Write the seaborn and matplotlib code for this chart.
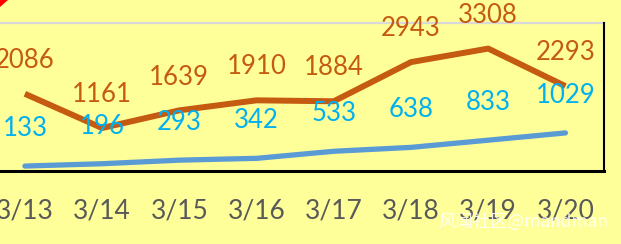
import matplotlib
matplotlib.use("Agg")
import matplotlib.pyplot as plt
import seaborn as sns
import pandas as pd
from matplotlib.patches import Polygon

dates = ["3/13", "3/14", "3/15", "3/16", "3/17", "3/18", "3/19", "3/20"]
series_a = [2086, 1161, 1639, 1910, 1884, 2943, 3308, 2293]
series_b = [133, 196, 293, 342, 533, 638, 833, 1029]

df = pd.DataFrame({"x": range(len(dates)), "a": series_a, "b": series_b})

sns.set_style("white")
plt.rcParams["font.family"] = ["Lato", "DejaVu Sans"]

BG = "#FFFF99"
ORANGE = "#C55A11"
BLUE = "#5B9BD5"
BLUE_LBL = "#00B0F0"

fig = plt.figure(figsize=(6.21, 2.44), dpi=100, facecolor=BG)
ax = fig.add_axes([-0.0221, 0.2992, 0.9948, 0.6066])
ax.set_facecolor(BG)

sns.lineplot(data=df, x="x", y="b", ax=ax, color=BLUE, linewidth=3.8,
             solid_capstyle="round", solid_joinstyle="round")
sns.lineplot(data=df, x="x", y="a", ax=ax, color=ORANGE, linewidth=4.3,
             solid_capstyle="butt", solid_joinstyle="round")

for i, v in enumerate(series_a):
    ax.annotate(str(v), (i, v), xytext=(0, 24), textcoords="offset points",
                ha="center", va="center", color=ORANGE, fontsize=18.5)
for i, v in enumerate(series_b):
    ax.annotate(str(v), (i, v), xytext=(0, 27), textcoords="offset points",
                ha="center", va="center", color=BLUE_LBL, fontsize=18.5)

ax.set_xlim(-0.5, len(dates) - 0.5)
ax.set_ylim(0, 4000)
ax.axhline(4000, color="#D9D9D9", linewidth=1.6, clip_on=False)

ax.set_xticks(range(len(dates)))
ax.set_xticklabels(dates, fontsize=19, color="#595959")
ax.set_xticks([i + 0.5 for i in range(-1, len(dates))], minor=True)
ax.tick_params(axis="x", which="major", length=0, pad=20)
ax.tick_params(axis="x", which="minor", length=7, width=1.8, color="black", direction="out")
ax.set_yticks([])
ax.set_xlabel("")
ax.set_ylabel("")

for s in ["top", "left"]:
    ax.spines[s].set_visible(False)
ax.spines["bottom"].set_color("black")
ax.spines["bottom"].set_linewidth(2.2)
ax.spines["right"].set_color("black")
ax.spines["right"].set_linewidth(1.5)

# red corner mark
fig.patches.append(Polygon([[0, 1], [8 / 621, 1], [0, 1 - 7 / 244]], closed=True,
                           transform=fig.transFigure, facecolor="red", edgecolor="none"))

fig.text(0.98, 0.09, "风闻社区@mandman", ha="right", va="center", color="white",
         alpha=0.85, fontsize=12.5, family=["Noto Sans CJK SC", "DejaVu Sans"])

fig.savefig("out.png", dpi=100, facecolor=BG)
